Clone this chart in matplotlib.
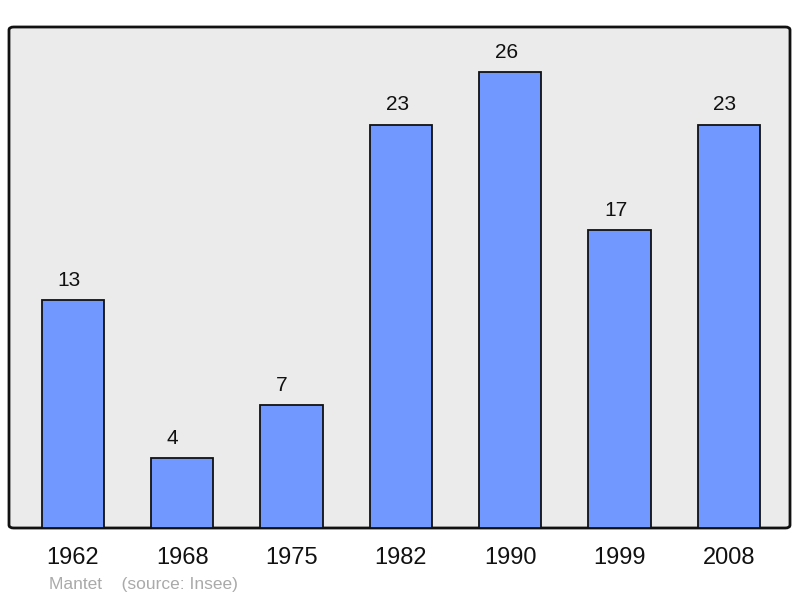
import matplotlib
matplotlib.use("Agg")
import matplotlib.pyplot as plt
from matplotlib.patches import FancyBboxPatch

years = ['1962', '1968', '1975', '1982', '1990', '1999', '2008']
population = [13, 4, 7, 23, 26, 17, 23]

plt.rcParams['font.family'] = ['Liberation Sans', 'DejaVu Sans']

fig = plt.figure(figsize=(8, 5.98), dpi=100)
ax = fig.add_axes([9 / 800, 70 / 598, 781 / 800, 501 / 598])
ax.set_facecolor('none')

# gray panel with rounded frame
frame = FancyBboxPatch((0, 0), 1, 1, boxstyle='round,pad=0,rounding_size=0.006',
                       transform=ax.transAxes, facecolor='#ebebeb',
                       edgecolor='#111111', linewidth=2, zorder=0, clip_on=False)
ax.add_patch(frame)

x = list(range(len(years)))
bars = ax.bar(x, population, width=0.57, color='#7098ff', edgecolor='#111111',
              linewidth=1.3, zorder=2)

# labels start at a fixed offset left of the bar centre
for xi, v in zip(x, population):
    ax.text(xi - 0.14, v + 1.12, str(v), ha='left', va='center', fontsize=15,
            color='#111111')

ax.set_xlim(-0.585, 6.56)
ax.set_ylim(0, 28.56)
ax.set_xticks(x)
ax.set_xticklabels(years, fontsize=17, color='#111111')
ax.tick_params(axis='x', length=0, pad=14)
ax.set_yticks([])
for s in ax.spines.values():
    s.set_visible(False)

fig.text(49 / 800, 1 - 584 / 598, 'Mantet    (source: Insee)', fontsize=12.5,
         color='#aaaaaa', ha='left', va='center')

fig.savefig('out.png', dpi=100, facecolor='white')
